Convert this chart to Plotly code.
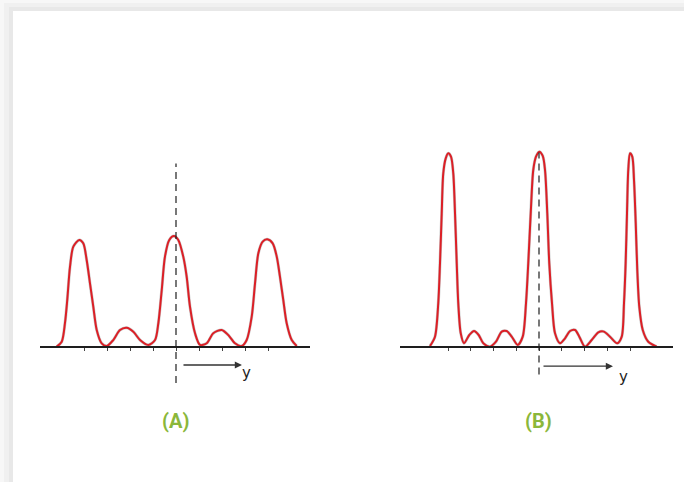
import plotly.graph_objects as go

# ---------------- data (position in fringe units, intensity in arbitrary units) ----------------
a_pos = [-1.297, -1.242, -1.207, -1.182, -1.152, -1.116, -1.051, -1.008, -0.971, -0.935,
         -0.899, -0.862, -0.808, -0.753, -0.682, -0.609, -0.536, -0.464, -0.391, -0.301,
         -0.228, -0.192, -0.155, -0.120, -0.073, -0.022, 0.025, 0.079, 0.116, 0.152,
         0.207, 0.261, 0.334, 0.405, 0.497, 0.568, 0.641, 0.714, 0.768, 0.823,
         0.859, 0.895, 0.942, 0.992, 1.051, 1.095, 1.130, 1.166, 1.203, 1.258, 1.312]
a_int = [0.03, 0.44, 1.98, 3.92, 6.69, 8.36, 8.92, 8.64, 7.25, 5.31,
         3.36, 1.42, 0.31, 0.08, 0.58, 1.42, 1.61, 1.28, 0.58, 0.17,
         0.58, 1.98, 4.75, 7.53, 8.92, 9.25, 8.92, 7.53, 5.86, 3.36,
         1.14, 0.17, 0.31, 1.14, 1.42, 1.00, 0.31, 0.08, 0.58, 2.53,
         5.31, 7.81, 8.78, 8.97, 8.64, 7.53, 5.86, 3.92, 1.98, 0.58, 0.08]

b_pos = [-1.198, -1.143, -1.107, -1.088, -1.069, -1.052, -1.025, -0.997, -0.967, -0.942,
         -0.923, -0.904, -0.887, -0.860, -0.824, -0.766, -0.714, -0.663, -0.612, -0.538,
         -0.473, -0.410, -0.355, -0.300, -0.234, -0.179, -0.143, -0.118, -0.091, -0.063,
         -0.033, 0.003, 0.041, 0.066, 0.091, 0.113, 0.143, 0.176, 0.231, 0.286,
         0.341, 0.396, 0.443, 0.505, 0.579, 0.652, 0.714, 0.780, 0.860, 0.909,
         0.934, 0.952, 0.967, 0.981, 1.000, 1.025, 1.044, 1.063, 1.080, 1.102,
         1.140, 1.201, 1.293]
b_int = [0.08, 0.86, 3.64, 6.97, 11.14, 14.47, 15.72, 16.14, 15.86, 14.47,
         11.14, 6.97, 3.64, 1.14, 0.31, 1.00, 1.33, 1.00, 0.31, 0.03,
         0.44, 1.28, 1.33, 0.86, 0.17, 0.86, 3.64, 6.97, 11.14, 14.75,
         15.86, 16.28, 15.92, 14.75, 11.14, 6.97, 3.64, 1.14, 0.31, 0.72,
         1.33, 1.42, 0.86, 0.03, 0.58, 1.22, 1.28, 0.86, 0.31, 0.86,
         3.64, 6.97, 11.14, 14.75, 16.14, 15.86, 13.92, 10.31, 6.42, 3.36,
         1.42, 0.44, 0.03]

tick_vals = [-1.0, -0.75, -0.5, -0.25, 0.0, 0.25, 0.5, 0.75, 1.0]
panel_labels = ["(A)", "(B)"]
axis_label = "y"

RED = "#dc1f26"
PENCIL = "#555555"
GREEN = "#8bb73a"
INK = "#1e1e1e"

W, H = 684, 482

fig = go.Figure()

for xs, ys, xr, yr in [(a_pos, a_int, "x", "y"), (b_pos, b_int, "x2", "y2")]:
    fig.add_trace(go.Scatter(x=xs, y=ys, xaxis=xr, yaxis=yr, mode="lines",
                             line=dict(color=PENCIL, width=3, shape="spline", smoothing=0.8),
                             opacity=0.3, hoverinfo="skip", showlegend=False))
    fig.add_trace(go.Scatter(x=xs, y=ys, xaxis=xr, yaxis=yr, mode="lines",
                             line=dict(color=RED, width=2, shape="spline", smoothing=0.8),
                             hoverinfo="skip", showlegend=False))

base_pos = (H - 347) / H
ax_common = dict(showgrid=False, zeroline=False, showticklabels=False,
                 showline=True, linecolor=INK, linewidth=1.5,
                 ticks="outside", ticklen=3, tickwidth=1, tickcolor="#444",
                 tickvals=tick_vals, anchor="free", position=base_pos, fixedrange=True)
y_range = [(347 - H) / 12, 347 / 12]
y_common = dict(visible=False, range=y_range, domain=[0, 1], fixedrange=True)

fig.update_layout(
    width=W, height=H,
    margin=dict(l=0, r=0, t=0, b=0),
    paper_bgcolor="#f7f7f7", plot_bgcolor="rgba(0,0,0,0)",
    xaxis=dict(domain=[40 / W, 310 / W], range=[(40 - 176) / 92, (310 - 176) / 92], **ax_common),
    xaxis2=dict(domain=[400 / W, 673 / W], range=[(400 - 539) / 91, (673 - 539) / 91], **ax_common),
    yaxis=dict(anchor="x", **y_common),
    yaxis2=dict(anchor="x2", **y_common),
    showlegend=False,
)

# card background with soft shadow
shapes = [
    dict(type="rect", xref="paper", yref="paper", x0=4 / W, x1=1.01, y0=-0.01, y1=1 - 3 / H,
         fillcolor="#f0f0f0", line_width=0, layer="below"),
    dict(type="rect", xref="paper", yref="paper", x0=9 / W, x1=1.01, y0=-0.01, y1=1 - 7 / H,
         fillcolor="#e8e8e8", line_width=0, layer="below"),
    dict(type="rect", xref="paper", yref="paper", x0=13 / W, x1=1.01, y0=-0.01, y1=1 - 11 / H,
         fillcolor="#ffffff", line_width=0, layer="below"),
]
# dashed centre lines
shapes.append(dict(type="line", xref="x", yref="y", x0=0, x1=0, y0=-3.0, y1=15.3,
                   line=dict(color=INK, width=1.2, dash="7px,5px")))
shapes.append(dict(type="line", xref="x2", yref="y2", x0=0, x1=0, y0=-2.3, y1=16.2,
                   line=dict(color=INK, width=1.2, dash="7px,5px")))
fig.update_layout(shapes=shapes)

annotations = []
# direction arrows
for xr, yr, x0, x1, yv in [("x", "y", 0.065, 0.717, -1.5), ("x2", "y2", 0.033, 0.813, -1.6)]:
    annotations.append(dict(x=x1, y=yv, ax=x0, ay=yv, xref=xr, yref=yr, axref=xr, ayref=yr,
                            text="", showarrow=True, arrowhead=2, arrowsize=1.1,
                            arrowwidth=1.3, arrowcolor="#333"))
annotations.append(dict(x=0.77, y=-2.2, xref="x", yref="y", text=axis_label, showarrow=False,
                        font=dict(family="DejaVu Sans", size=15, color=INK)))
annotations.append(dict(x=0.93, y=-2.5, xref="x2", yref="y2", text=axis_label, showarrow=False,
                        font=dict(family="DejaVu Sans", size=15, color=INK)))
# panel labels
for label, px in zip(panel_labels, [175, 538]):
    annotations.append(dict(x=px / W, y=1 - 421 / H, xref="paper", yref="paper",
                            xanchor="center", yanchor="middle",
                            text="<b>" + label + "</b>", showarrow=False,
                            font=dict(family="Roboto", size=20, color=GREEN)))
fig.update_layout(annotations=annotations)

fig.write_html("out.html", config={"displayModeBar": False},
               post_script="document.body.style.margin='0';document.body.style.overflow='hidden';")
